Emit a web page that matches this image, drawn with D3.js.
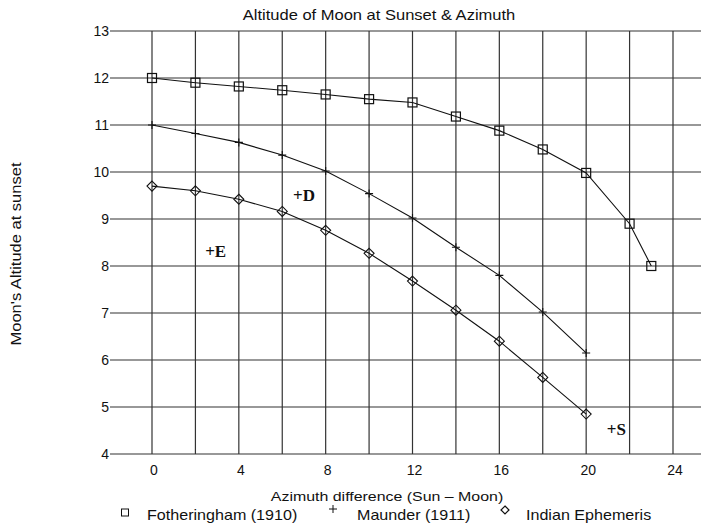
<!DOCTYPE html>
<html>
<head>
<meta charset="utf-8">
<script src="https://cdn.jsdelivr.net/npm/d3@7"></script>
<style>
  body { margin: 0; background: #fff; }
  text { font-family: "Liberation Sans", Arial, sans-serif; fill: #111; }
</style>
</head>
<body>
<div id="chart"></div>
<script>
// Azimuth difference (Sun - Moon), degrees
const azimFoth = [0, 2, 4, 6, 8, 10, 12, 14, 16, 18, 20, 22, 23];
const altFoth = [12.0, 11.9, 11.82, 11.74, 11.65, 11.55, 11.48, 11.18, 10.88, 10.48, 9.98, 8.9, 8.0];

const azimMaunder = [0, 2, 4, 6, 8, 10, 12, 14, 16, 18, 20];
const altMaunder = [11.0, 10.82, 10.63, 10.36, 10.02, 9.54, 9.02, 8.4, 7.8, 7.02, 6.15];

const azimIndian = [0, 2, 4, 6, 8, 10, 12, 14, 16, 18, 20];
const altIndian = [9.7, 9.6, 9.42, 9.16, 8.76, 8.27, 7.68, 7.06, 6.4, 5.63, 4.85];

const xTicks = [0, 4, 8, 12, 16, 20, 24];
const xGrid = [0, 2, 4, 6, 8, 10, 12, 14, 16, 18, 20, 22, 24];
const yTicks = [4, 5, 6, 7, 8, 9, 10, 11, 12, 13];

// point labels written on the chart
const noteLabels = ['+E', '+D', '+S'];
const noteX = [2.45, 6.5, 20.95];
const noteY = [8.2, 9.38, 4.4];

const legendNames = ['Fotheringham (1910)', 'Maunder (1911)', 'Indian Ephemeris'];

const width = 705, height = 529;
const margin = { top: 31, right: 4, bottom: 75, left: 110 };
const stretch = 1.18; // the source text is a bit wide

const svg = d3.select('#chart').append('svg')
  .attr('width', width)
  .attr('height', height);

// x: 0 -> 152px, 24 -> 673px
const x = d3.scaleLinear().domain([0, 24]).range([152, 673]);
const y = d3.scaleLinear().domain([4, 13]).range([454, 31]);

const x0 = margin.left, x1 = width - margin.right;

// horizontal grid lines (also act as y ticks)
svg.append('g').selectAll('line')
  .data(yTicks).enter().append('line')
  .attr('x1', x0).attr('x2', x1)
  .attr('y1', d => y(d)).attr('y2', d => y(d))
  .attr('stroke', '#333').attr('stroke-width', 1.2);

// vertical grid lines
svg.append('g').selectAll('line')
  .data(xGrid).enter().append('line')
  .attr('x1', d => x(d)).attr('x2', d => x(d))
  .attr('y1', y(13)).attr('y2', y(4))
  .attr('stroke', '#333').attr('stroke-width', 1.2);

// y tick labels
svg.append('g').selectAll('text')
  .data(yTicks).enter().append('text')
  .attr('x', x0 - 1).attr('y', d => y(d) + 5)
  .attr('text-anchor', 'end')
  .style('font-size', '14px')
  .text(d => d);

// x tick labels
svg.append('g').selectAll('text')
  .data(xTicks).enter().append('text')
  .attr('x', d => x(d) + 2).attr('y', y(4) + 21)
  .attr('text-anchor', 'middle')
  .style('font-size', '14px')
  .text(d => d);

// titles
svg.append('text')
  .attr('transform', `translate(379,20) scale(${stretch},1)`)
  .attr('text-anchor', 'middle')
  .style('font-size', '14px')
  .text('Altitude of Moon at Sunset & Azimuth');

svg.append('text')
  .attr('transform', `translate(387,501) scale(${stretch},1)`)
  .attr('text-anchor', 'middle')
  .style('font-size', '13.5px')
  .text('Azimuth difference (Sun \u2013 Moon)');

svg.append('text')
  .attr('transform', `translate(21,254) rotate(-90) scale(${stretch},1)`)
  .attr('text-anchor', 'middle')
  .style('font-size', '14px')
  .text("Moon's  Altitude at sunset");

// series
const line = d3.line().x(d => x(d[0])).y(d => y(d[1]));
const series = [
  { pts: d3.zip(azimFoth, altFoth), sym: 'square' },
  { pts: d3.zip(azimMaunder, altMaunder), sym: 'plus' },
  { pts: d3.zip(azimIndian, altIndian), sym: 'diamond' }
];

function drawSymbol(g, sym, cx, cy) {
  if (sym === 'square') {
    g.append('rect')
      .attr('x', cx - 4.5).attr('y', cy - 4.5)
      .attr('width', 9).attr('height', 9)
      .attr('fill', 'none').attr('stroke', '#111').attr('stroke-width', 1.2);
  } else if (sym === 'plus') {
    g.append('path')
      .attr('d', `M${cx - 4},${cy}H${cx + 4}M${cx},${cy - 4}V${cy + 4}`)
      .attr('stroke', '#111').attr('stroke-width', 1.1);
  } else {
    g.append('path')
      .attr('d', `M${cx},${cy - 5}L${cx + 5},${cy}L${cx},${cy + 5}L${cx - 5},${cy}Z`)
      .attr('fill', 'none').attr('stroke', '#111').attr('stroke-width', 1.1);
  }
}

series.forEach(s => {
  svg.append('path')
    .datum(s.pts)
    .attr('d', line)
    .attr('fill', 'none')
    .attr('stroke', '#111')
    .attr('stroke-width', 1.1);
  const g = svg.append('g');
  s.pts.forEach(p => drawSymbol(g, s.sym, x(p[0]), y(p[1])));
});

// notes
noteLabels.forEach((t, i) => {
  svg.append('text')
    .attr('x', x(noteX[i])).attr('y', y(noteY[i]))
    .style('font-family', '"Liberation Serif", "Times New Roman", serif')
    .style('font-weight', 'bold')
    .style('font-size', '17px')
    .text(t);
});

// legend
const legendSymX = [125, 333, 505];
const legendTextX = [147, 357, 526];
const legendY = 520;
const lg = svg.append('g');
legendNames.forEach((name, i) => {
  const sym = series[i].sym;
  const cx = legendSymX[i], cy = legendY - 8;
  if (sym === 'square') {
    lg.append('rect')
      .attr('x', cx - 3.5).attr('y', cy - 3)
      .attr('width', 7).attr('height', 7)
      .attr('fill', 'none').attr('stroke', '#111').attr('stroke-width', 1);
  } else if (sym === 'plus') {
    lg.append('path')
      .attr('d', `M${cx - 4},${cy - 3}H${cx + 4}M${cx},${cy - 7}V${cy + 1}`)
      .attr('stroke', '#111').attr('stroke-width', 1);
  } else {
    lg.append('path')
      .attr('d', `M${cx},${cy - 6}L${cx + 4},${cy - 2}L${cx},${cy + 2}L${cx - 4},${cy - 2}Z`)
      .attr('fill', 'none').attr('stroke', '#111').attr('stroke-width', 1.2);
  }
  lg.append('text')
    .attr('transform', `translate(${legendTextX[i]},${legendY}) scale(1.15,1)`)
    .style('font-size', '14px')
    .text(name);
});
</script>
</body>
</html>
